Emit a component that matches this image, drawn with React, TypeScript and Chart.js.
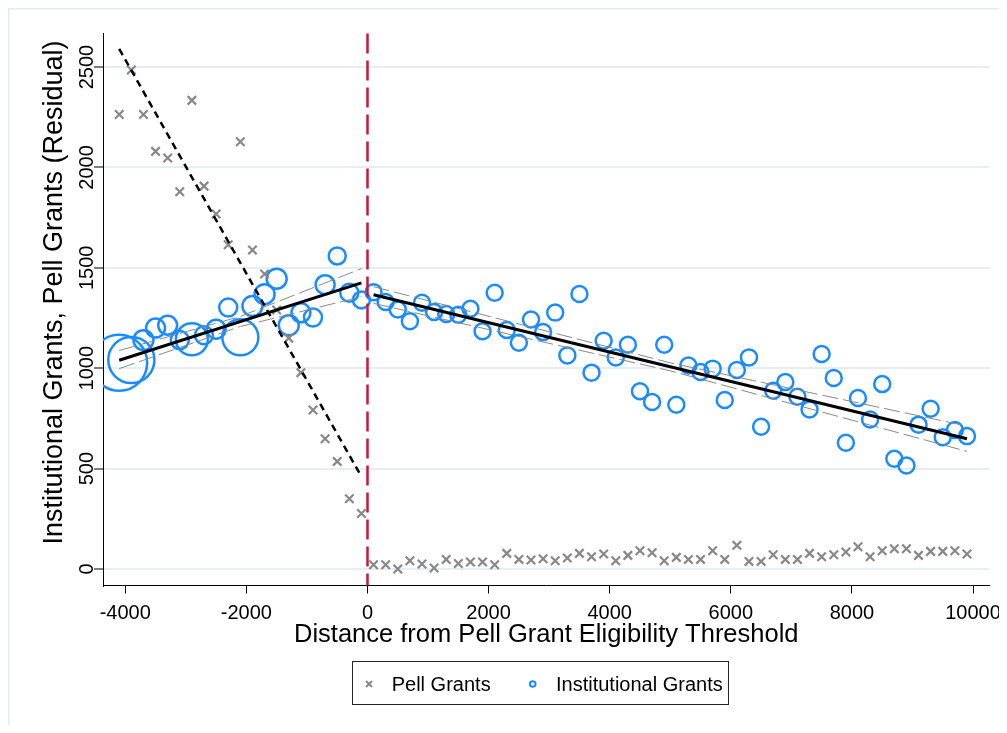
import React, { useEffect, useRef } from "react";
import { Chart, registerables } from "chart.js";

Chart.register(...registerables);

// ---- Data ----
const leftBins = [-4100, -3900, -3700, -3500, -3300, -3100, -2900, -2700, -2500, -2300, -2100, -1900, -1700, -1500, -1300, -1100, -900, -700, -500, -300, -100];
const rightBins = [100, 300, 500, 700, 900, 1100, 1300, 1500, 1700, 1900, 2100, 2300, 2500, 2700, 2900, 3100, 3300, 3500, 3700, 3900, 4100, 4300, 4500, 4700, 4900, 5100, 5300, 5500, 5700, 5900, 6100, 6300, 6500, 6700, 6900, 7100, 7300, 7500, 7700, 7900, 8100, 8300, 8500, 8700, 8900, 9100, 9300, 9500, 9700, 9900];

const pellLeft = [2264, 2485, 2264, 2080, 2047, 1879, 2334, 1907, 1768, 1615, 2128, 1589, 1469, 1290, 1150, 978, 792, 649, 536, 350, 277];
const pellRight = [21, 21, 0, 41, 25, 5, 48, 28, 35, 35, 21, 78, 48, 45, 51, 41, 55, 78, 61, 75, 41, 68, 91, 81, 41, 58, 48, 48, 91, 48, 118, 38, 38, 71, 48, 48, 78, 61, 71, 85, 111, 61, 91, 101, 101, 68, 88, 88, 91, 75];

const instLeft = [1027, 1041, 1140, 1200, 1214, 1140, 1144, 1164, 1194, 1303, 1154, 1310, 1369, 1446, 1214, 1276, 1253, 1416, 1559, 1376, 1340];
const instRight = [1379, 1330, 1293, 1234, 1326, 1280, 1270, 1266, 1296, 1184, 1376, 1190, 1127, 1243, 1180, 1277, 1064, 1370, 978, 1137, 1054, 1117, 885, 832, 1117, 818, 1014, 981, 998, 842, 991, 1054, 709, 888, 931, 858, 795, 1071, 951, 629, 852, 745, 921, 549, 516, 719, 798, 656, 692, 662];
// relative frequency weights of the left bins (marker area)
const instWeightLeft = [12.2, 8.3, 1.56, 1.4, 1.4, 1.27, 4.0, 1.27, 1.4, 1.27, 5.06, 1.56, 1.56, 1.56, 1.56, 1.4, 1.27, 1.4, 1.13, 1.27, 1.13];

// fitted lines
const instFitLeftX = [-4100, -100];
const instFitLeftY = [1040, 1425];
const ciLeftX = [-4100, -2100, -100];
const ciLeftUpper = [1088, 1258, 1496];
const ciLeftLower = [998, 1208, 1356];
const pellFitLeftX = [-4100, -100];
const pellFitLeftY = [2590, 460];
const instFitRightX = [100, 9900];
const instFitRightY = [1366, 649];
const ciRightX = [100, 5000, 9900];
const ciRightUpper = [1406, 1027, 712];
const ciRightLower = [1323, 987, 586];

const thresholdX = 0;
const xTicks = [-4000, -2000, 0, 2000, 4000, 6000, 8000, 10000];
const yTicks = [0, 500, 1000, 1500, 2000, 2500];

const xTitle = "Distance from Pell Grant Eligibility Threshold";
const yTitle = "Institutional Grants, Pell Grants (Residual)";
const legendLabels = ["Pell Grants", "Institutional Grants"];

// ---- Styles ----
const FONT = "'Liberation Sans', Arial, Helvetica, sans-serif";
const BLUE = "#1a8cff";
const GRAY = "#888888";
const RED = "#c8173c";
const GRID = "#e6eef1";
const BASE_R = 8;

const pts = (xs: number[], ys: number[]) => xs.map((x, i) => ({ x, y: ys[i] }));

export default function App() {
  const ref = useRef<HTMLCanvasElement | null>(null);

  useEffect(() => {
    if (!ref.current) return;

    const lineDs = (data: any[], color: string, width: number, dash: number[]) => ({
      data,
      showLine: true,
      borderColor: color,
      borderWidth: width,
      borderDash: dash,
      pointRadius: 0,
      fill: false,
      tension: 0,
    });

    const decor = {
      id: "decor",
      afterDatasetsDraw(chart: any) {
        const { ctx, chartArea, scales } = chart;
        const x0 = scales.x.getPixelForValue(thresholdX);
        ctx.save();
        ctx.strokeStyle = RED;
        ctx.lineWidth = 2.5;
        ctx.setLineDash([20, 7]);
        ctx.beginPath();
        ctx.moveTo(x0, chartArea.top);
        ctx.lineTo(x0, chartArea.bottom);
        ctx.stroke();
        ctx.restore();
      },
      afterDraw(chart: any) {
        const { ctx, scales } = chart;
        ctx.save();
        // outer frame (top & left visible)
        ctx.fillStyle = "#e4ecef";
        ctx.fillRect(0, 0, chart.width, 1.6);
        ctx.fillRect(0, 0, 1.6, chart.height);

        // y tick labels, rotated
        ctx.fillStyle = "#000";
        ctx.font = `20px ${FONT}`;
        ctx.textAlign = "center";
        ctx.textBaseline = "alphabetic";
        for (const v of yTicks) {
          const py = scales.y.getPixelForValue(v);
          ctx.save();
          ctx.translate(85, py);
          ctx.rotate(-Math.PI / 2);
          ctx.fillText(String(v), 0, 0);
          ctx.restore();
        }
        // y title
        ctx.font = `27px ${FONT}`;
        ctx.save();
        ctx.translate(53.5, 284.5);
        ctx.rotate(-Math.PI / 2);
        ctx.fillText(yTitle, 0, 0);
        ctx.restore();

        // legend
        const bx = 344.5, by = 653.5, bw = 376, bh = 43;
        ctx.strokeStyle = "#222";
        ctx.lineWidth = 1;
        ctx.strokeRect(bx, by, bw, bh);
        const cy = 676;
        ctx.strokeStyle = GRAY;
        ctx.lineWidth = 2;
        ctx.beginPath();
        ctx.moveTo(361 - 3, cy - 3);
        ctx.lineTo(361 + 3, cy + 3);
        ctx.moveTo(361 - 3, cy + 3);
        ctx.lineTo(361 + 3, cy - 3);
        ctx.stroke();
        ctx.strokeStyle = BLUE;
        ctx.beginPath();
        ctx.arc(524.7, cy, 2.8, 0, Math.PI * 2);
        ctx.stroke();
        ctx.fillStyle = "#000";
        ctx.font = `20px ${FONT}`;
        ctx.textAlign = "left";
        ctx.fillText(legendLabels[0], 383.7, 683);
        ctx.fillText(legendLabels[1], 548, 683);
        ctx.restore();
      },
    };

    const zeroPad = (s: any) => {
      s.paddingLeft = 0;
      s.paddingRight = 0;
      s.paddingTop = 0;
      s.paddingBottom = 0;
    };

    const chart = new Chart(ref.current, {
      type: "scatter",
      data: {
        datasets: [
          lineDs(pts(instFitLeftX, instFitLeftY), "#000", 3, []),
          lineDs(pts(instFitRightX, instFitRightY), "#000", 3, []),
          lineDs(pts(pellFitLeftX, pellFitLeftY), "#000", 2.5, [7, 5]),
          lineDs(pts(ciLeftX, ciLeftUpper), GRAY, 1, [16, 5]),
          lineDs(pts(ciLeftX, ciLeftLower), GRAY, 1, [16, 5]),
          lineDs(pts(ciRightX, ciRightUpper), GRAY, 1, [16, 5]),
          lineDs(pts(ciRightX, ciRightLower), GRAY, 1, [16, 5]),
          {
            data: pts(leftBins, pellLeft),
            pointStyle: "crossRot",
            pointRadius: 6,
            borderColor: GRAY,
            borderWidth: 2.2,
            backgroundColor: GRAY,
          },
          {
            data: pts(rightBins, pellRight),
            pointStyle: "crossRot",
            pointRadius: 6,
            borderColor: GRAY,
            borderWidth: 2.2,
            backgroundColor: GRAY,
          },
          {
            data: pts(leftBins, instLeft),
            pointStyle: "circle",
            pointRadius: instWeightLeft.map((w) => BASE_R * Math.sqrt(w)),
            borderColor: BLUE,
            borderWidth: 2.5,
            backgroundColor: "rgba(0,0,0,0)",
          },
          {
            data: pts(rightBins, instRight),
            pointStyle: "circle",
            pointRadius: BASE_R,
            borderColor: BLUE,
            borderWidth: 2.5,
            backgroundColor: "rgba(0,0,0,0)",
          },
        ] as any,
      },
      options: {
        animation: false,
        responsive: false,
        events: [],
        layout: { autoPadding: false, padding: { left: 0, top: 25.5, right: 17.5, bottom: 0 } },
        plugins: { legend: { display: false }, tooltip: { enabled: false } },
        scales: {
          x: {
            type: "linear",
            min: -4368,
            max: 10272,
            afterBuildTicks: (s: any) => {
              s.ticks = xTicks.map((v) => ({ value: v }));
            },
            afterFit: (s: any) => {
              s.height = 139.5;
              zeroPad(s);
            },
            ticks: {
              color: "#000",
              font: { family: FONT, size: 20 },
              padding: 7.5,
              maxRotation: 0,
              minRotation: 0,
              autoSkip: false,
              callback: (v: any) => String(v),
            },
            grid: { drawOnChartArea: false, drawTicks: true, tickLength: 8, tickColor: "#000", tickWidth: 1 },
            border: { color: "#000", width: 1 },
            title: {
              display: true,
              text: xTitle,
              color: "#000",
              font: { family: FONT, size: 25.5 },
              padding: { top: 0, bottom: 74.7 },
            },
          },
          y: {
            type: "linear",
            min: -82,
            max: 2667,
            afterBuildTicks: (s: any) => {
              s.ticks = yTicks.map((v) => ({ value: v }));
            },
            afterFit: (s: any) => {
              s.width = 95;
              zeroPad(s);
            },
            ticks: { display: false },
            grid: { color: GRID, lineWidth: 2, drawTicks: true, tickLength: 9, tickColor: "#000", tickWidth: 1 },
            border: { color: "#000", width: 1 },
          },
        },
      },
      plugins: [decor],
    } as any);

    return () => chart.destroy();
  }, []);

  return (
    <div style={{ width: 999, height: 717, position: "relative" }}>
      <canvas ref={ref} width={999} height={717} style={{ display: "block", width: 999, height: 717 }} />
    </div>
  );
}
